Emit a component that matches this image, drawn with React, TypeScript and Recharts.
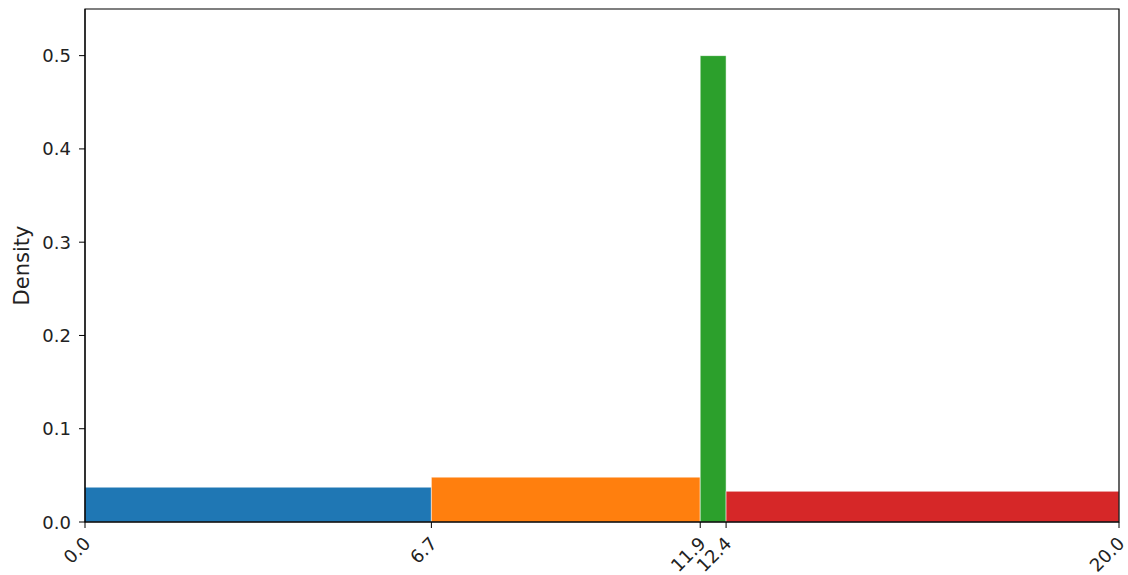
import React from 'react';
import { ComposedChart, XAxis, YAxis, ReferenceArea } from 'recharts';

// bin edges (quartiles) and density per bin
const binStarts = [0, 6.7, 11.9, 12.4];
const binEnds = [6.7, 11.9, 12.4, 20];
const densities = [0.0373, 0.0481, 0.5, 0.0329];
const binColors = ['#1f77b4', '#ff7f0e', '#2ca02c', '#d62728'];

const xTicks = [0, 6.7, 11.9, 12.4, 20];
const yTicks = [0, 0.1, 0.2, 0.3, 0.4, 0.5];
const xDomain = [0, 20];
const yDomain = [0, 0.55];

const bins = binStarts.map((x0, i) => ({ x0, x1: binEnds[i], density: densities[i], color: binColors[i] }));

const font = 'DejaVu Sans, sans-serif';
const tickStyle = { fontSize: 18, fontFamily: font, fill: '#222' };

const RotatedTick = (props: any) => {
  const { x, y, payload } = props;
  const ax = x - 3;
  const ay = y + 5;
  return (
    <text x={ax} y={ay} textAnchor="end" dominantBaseline="hanging" transform={`rotate(-45, ${ax}, ${ay})`} style={tickStyle}>
      {payload.value.toFixed(1)}
    </text>
  );
};

const LeftTick = (props: any) => {
  const { x, y, payload } = props;
  return (
    <text x={x - 2} y={y} textAnchor="end" dominantBaseline="central" style={tickStyle}>
      {payload.value.toFixed(1)}
    </text>
  );
};

export default function App() {
  return (
    <div style={{ position: 'absolute', left: 0, top: 0, width: 1128, height: 575, background: '#fff' }}>
      <ComposedChart width={1128} height={575} data={bins} margin={{ top: 9, right: 9, left: 0, bottom: 0 }}>
        <XAxis
          xAxisId="b"
          type="number"
          dataKey="x0"
          domain={xDomain}
          ticks={xTicks}
          interval={0}
          height={53}
          stroke="#000"
          tickSize={6}
          tick={<RotatedTick />}
          allowDataOverflow
        />
        <YAxis
          yAxisId="l"
          type="number"
          domain={yDomain}
          ticks={yTicks}
          interval={0}
          width={85}
          stroke="#000"
          tickSize={6}
          tickMargin={6}
          tick={<LeftTick />}
          label={{ value: 'Density', angle: -90, position: 'insideLeft', offset: 22, style: { fontSize: 21, fontFamily: font, fill: '#222', textAnchor: 'middle' } }}
          allowDataOverflow
        />
        {bins.map((b, i) => (
          <ReferenceArea
            key={i}
            xAxisId="b"
            yAxisId="l"
            x1={b.x0}
            x2={b.x1}
            y1={0}
            y2={b.density}
            fill={b.color}
            fillOpacity={1}
            stroke="#fff"
            strokeWidth={0.5}
            ifOverflow="visible"
          />
        ))}
        <ReferenceArea
          xAxisId="b"
          yAxisId="l"
          x1={xDomain[0]}
          x2={xDomain[1]}
          y1={yDomain[0]}
          y2={yDomain[1]}
          fill="none"
          stroke="#000"
          strokeWidth={1.2}
          ifOverflow="visible"
        />
      </ComposedChart>
    </div>
  );
}
